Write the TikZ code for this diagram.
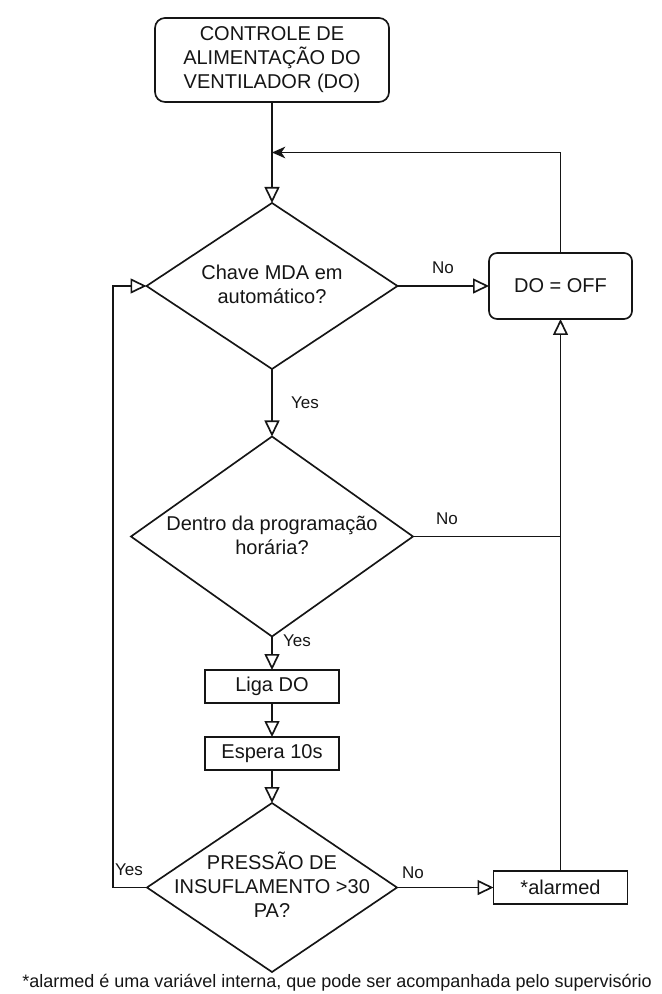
\documentclass[tikz,border=0pt]{standalone}
\usepackage{fontspec}
\setmainfont{Liberation Sans}
\usetikzlibrary{arrows.meta,shapes.geometric,calc}
\definecolor{ink}{HTML}{151515}
\begin{document}
\begin{tikzpicture}[x=0.75pt,y=-0.75pt,
  color=ink,
  line width=1.25pt,
  box/.style={draw, rectangle, inner sep=0pt, outer sep=0pt, align=center,
    font=\fontsize{15}{18}\selectfont},
  decision/.style={draw, diamond, inner sep=0pt, outer sep=0pt},
  dtext/.style={align=center, inner sep=0pt, font=\fontsize{15}{18}\selectfont},
  lbl/.style={inner sep=0pt, font=\fontsize{12.75}{15}\selectfont},
  flow/.style={-{Triangle[open,length=12pt,width=11.25pt]}},
  back/.style={-{Stealth[length=10pt,width=8.75pt,inset=3pt]}}
]
\useasboundingbox (0,0) rectangle (661,994);

% process steps and decisions
\node[box, rounded corners=7.5pt, minimum width={234*0.75pt}, minimum height={84*0.75pt}]
  (start) at (272,60) {CONTROLE DE\\ALIMENTAÇÃO DO\\VENTILADOR (DO)};

\node[decision, minimum width={251*0.75pt}, minimum height={166*0.75pt}] (q1) at (272,286) {};
\node[dtext] (q1t) at (272,284) {Chave MDA em\\automático?};

\node[box, rounded corners=6pt, minimum width={143*0.75pt}, minimum height={66*0.75pt}]
  (off) at (560.5,286) {DO = OFF};

\node[decision, minimum width={282*0.75pt}, minimum height={200*0.75pt}] (q2) at (272,536.5) {};
\node[dtext] (q2t) at (272,535) {Dentro da programação\\horária?};

\node[box, minimum width={134*0.75pt}, minimum height={33*0.75pt}] (liga) at (272,686.5) {Liga DO};
\node[box, minimum width={134*0.75pt}, minimum height={33*0.75pt}] (wait) at (272,753.5) {Espera 10s};

\node[decision, minimum width={250*0.75pt}, minimum height={169*0.75pt}] (q3) at (272,887.5) {};
\node[dtext] (q3t) at (272,885) {PRESSÃO DE\\INSUFLAMENTO >30\\PA?};

\node[box, minimum width={134*0.75pt}, minimum height={33*0.75pt}] (alarm) at (560.5,887.5) {*alarmed};

% footnote
\node[inner sep=0pt, font=\fontsize{13.5}{16}\selectfont] (note) at (337,983)
  {*alarmed é uma variável interna, que pode ser acompanhada pelo supervisório};

% helper points
\coordinate (join) at ($(start.south)!0.5!(q1.north)$);
\coordinate (loop) at (113,0);

% connectors
\draw[flow] (start) -- (q1);
\draw[back] (off.north) |- (join);
\draw[flow] (q1) -- (off);
\draw[flow] (q1) -- (q2);
\draw (q2.east) -- (q2.east -| off.south);
\draw[flow] (alarm) -- (off);
\draw[flow] (q2) -- (liga);
\draw[flow] (liga) -- (wait);
\draw[flow] (wait) -- (q3);
\draw[flow] (q3) -- (alarm);
\draw[flow] (q3.west) -- (q3.west -| loop) |- (q1.west);

% branch labels
\node[lbl] (n1) at (443,268) {No};
\node[lbl] (y1) at (305,403) {Yes};
\node[lbl] (n2) at (447,519) {No};
\node[lbl] (y2) at (297,641) {Yes};
\node[lbl] (y3) at (129,870) {Yes};
\node[lbl] (n3) at (413,873) {No};
\end{tikzpicture}
\end{document}
